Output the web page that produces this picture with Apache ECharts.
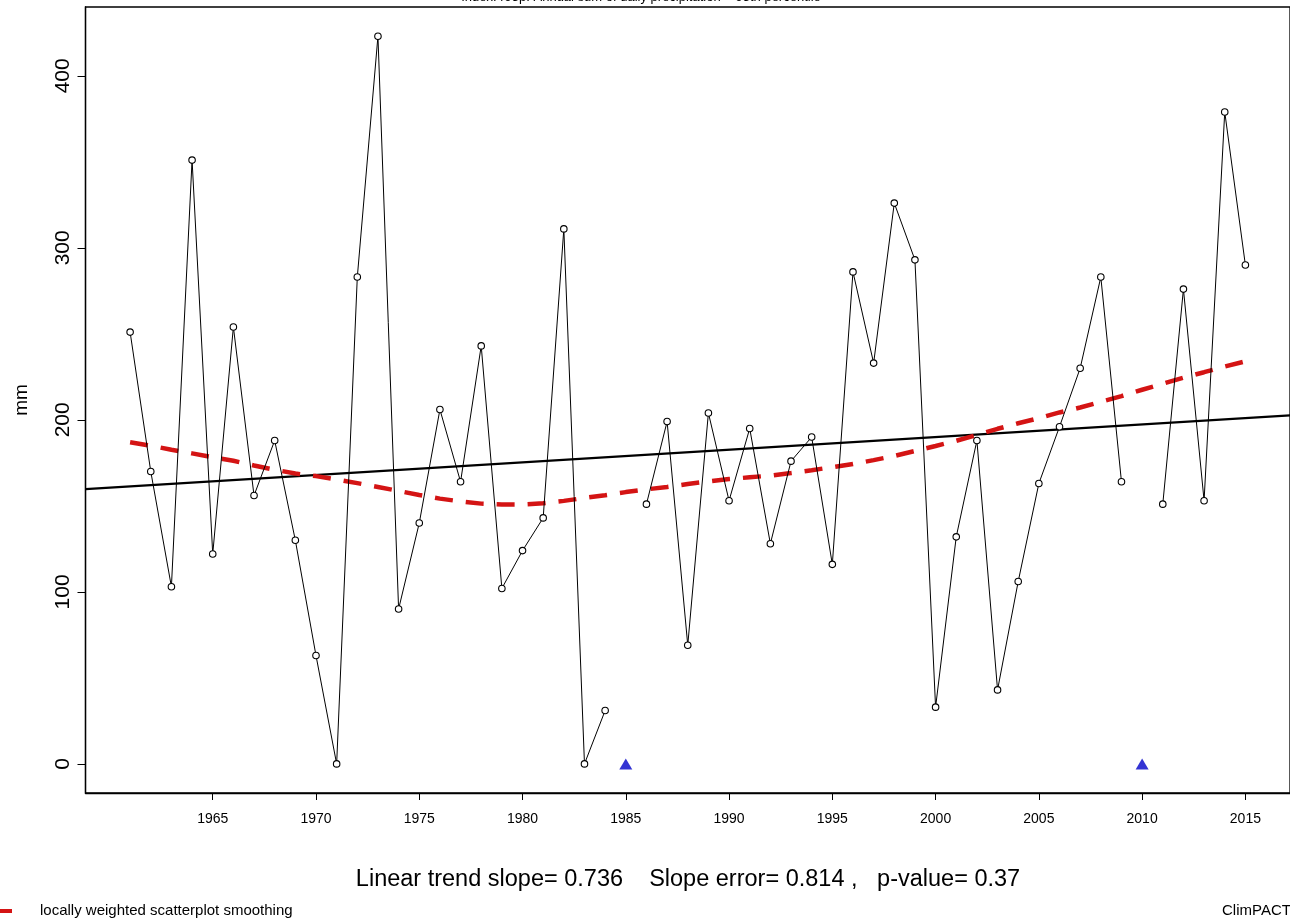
<!DOCTYPE html>
<html>
<head>
<meta charset="utf-8">
<script src="https://cdn.jsdelivr.net/npm/echarts@6/dist/echarts.min.js"></script>
<style>
html,body{margin:0;padding:0;background:#fff;}
#chart{width:1290px;height:922px;}
</style>
</head>
<body>
<div id="chart"></div>
<script>
// ---- data ----
const years = [1961,1962,1963,1964,1965,1966,1967,1968,1969,1970,1971,1972,1973,1974,1975,1976,1977,1978,1979,1980,
  1981,1982,1983,1984,1985,1986,1987,1988,1989,1990,1991,1992,1993,1994,1995,1996,1997,1998,1999,2000,
  2001,2002,2003,2004,2005,2006,2007,2008,2009,2010,2011,2012,2013,2014,2015];
const r95p = [251,170,103,351,122,254,156,188,130,63,0,283,423,90,140,206,164,243,102,124,
  143,311,0,31,null,151,199,69,204,153,195,128,176,190,116,286,233,326,293,33,
  132,188,43,106,163,196,230,283,164,null,151,276,153,379,290];
const lowess = [187,185,182.6,180.5,178.3,176.2,173.5,171,168.8,167.3,165.3,163.2,161,158.7,156.3,154.2,152.6,151.3,150.8,150.8,
  151.5,152.9,154.6,156.2,158,159.6,161,162.7,164.2,165.6,166.6,167.6,169.1,170.7,172.5,174.3,176.6,179,181.9,184.8,
  187.8,191.2,194.8,198,201,204.3,207.2,210.5,213.8,217.5,221,224.5,227.7,231,234];
const trendYears = [1958.84, 2017.16];
const trendValues = [159.7, 202.6];
const missingYears = [1985, 2010];
const missingMarks = [0, 0];
const xTicks = [1965,1970,1975,1980,1985,1990,1995,2000,2005,2010,2015];
const yTicks = [0,100,200,300,400];
const titleText = 'Index: r95p. Annual sum of daily precipitation > 95th percentile';
const statsText = 'Linear trend slope= 0.736    Slope error= 0.814 ,   p-value= 0.37';
const legendText = 'locally weighted scatterplot smoothing';

const FONT = 'Liberation Sans, Arial, sans-serif';
const chart = echarts.init(document.getElementById('chart'), null, {renderer:'canvas'});

const option = {
  backgroundColor:'#fff',
  animation:false,
  grid:{left:85.5, right:-3.5, top:7, bottom:129, show:true, borderColor:'#000', borderWidth:1.3, backgroundColor:'transparent', containLabel:false},
  xAxis:{
    type:'value', min:1958.84, max:2017.16,
    axisLine:{show:true, onZero:false, lineStyle:{color:'#000', width:1.3}},
    axisTick:{show:true, length:7, inside:false, customValues:xTicks, lineStyle:{color:'#000', width:1}},
    axisLabel:{show:true, customValues:xTicks, margin:19, color:'#000', fontSize:14, fontFamily:FONT, formatter:v=>String(v)},
    splitLine:{show:false}
  },
  yAxis:{
    type:'value', min:-16.92, max:440,
    name:'mm', nameLocation:'middle', nameGap:54, nameRotate:90,
    nameTextStyle:{color:'#000', fontSize:19, fontFamily:FONT},
    axisLine:{show:true, onZero:false, lineStyle:{color:'#000', width:1.3}},
    axisTick:{show:true, length:8, inside:false, customValues:yTicks, lineStyle:{color:'#000', width:1}},
    axisLabel:{show:true, customValues:yTicks, rotate:90, margin:12, color:'#000', fontSize:21, fontFamily:FONT, align:'center', verticalAlign:'bottom', formatter:v=>String(v)},
    splitLine:{show:false}
  },
  series:[
    {
      type:'line', name:'trend', data:trendYears.map((y,i)=>[y,trendValues[i]]),
      symbol:'none', lineStyle:{color:'#000', width:2.4}, z:3, silent:true
    },
    {
      type:'line', name:'lowess', data:years.map((y,i)=>[y,lowess[i]]),
      symbol:'none', lineStyle:{color:'#d41414', width:4.5, type:[18,13], cap:'butt'}, z:4, silent:true
    },
    {
      type:'line', name:'r95p', data:years.map((y,i)=>[y,r95p[i]]),
      connectNulls:false, showAllSymbol:true,
      symbol:'circle', symbolSize:6.5,
      itemStyle:{color:'#fff', borderColor:'#000', borderWidth:1.1},
      lineStyle:{color:'#000', width:1}, z:5, silent:true
    },
    {
      type:'scatter', name:'missing', data:missingYears.map((y,i)=>[y,missingMarks[i]]),
      symbol:'triangle', symbolSize:[13,11], itemStyle:{color:'#0000c8'}, z:6, silent:true
    }
  ],
  graphic:[
    {type:'text', x:641, y:-9, style:{text:titleText, align:'center', verticalAlign:'top', font:'13px '+FONT, fill:'#000'}},
    {type:'text', x:688, y:868, style:{text:statsText, align:'center', verticalAlign:'top', font:'23.5px '+FONT, fill:'#000'}},
    {type:'rect', shape:{x:0, y:909, width:12, height:4}, style:{fill:'#d41414'}},
    {type:'text', x:40, y:903, style:{text:legendText, align:'left', verticalAlign:'top', font:'15px '+FONT, fill:'#000'}},
    {type:'text', x:1222, y:903, style:{text:'ClimPACT', align:'left', verticalAlign:'top', font:'15px '+FONT, fill:'#000'}}
  ]
};
chart.setOption(option);
</script>
</body>
</html>
